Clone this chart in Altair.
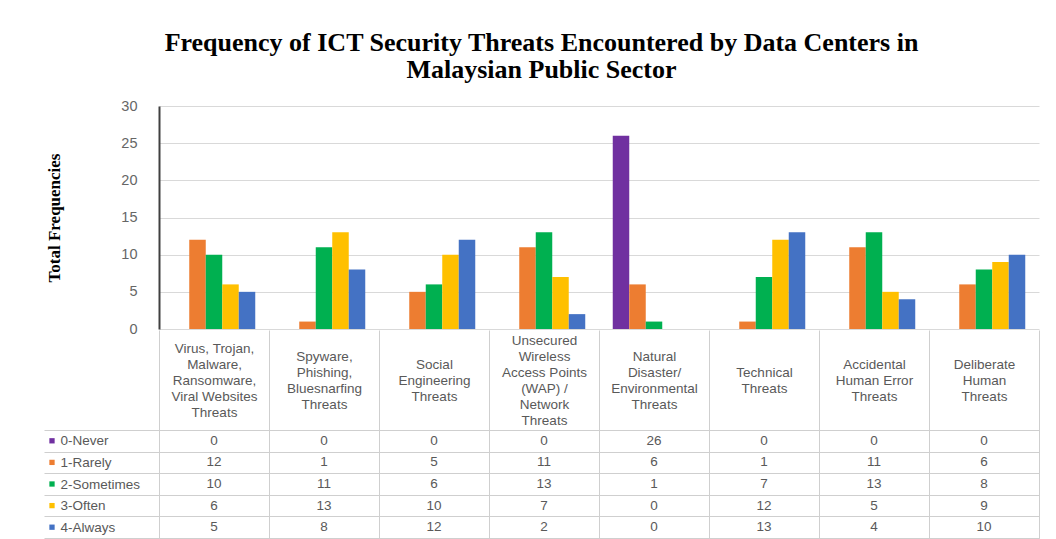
import altair as alt
import pandas as pd

categories = [
    "Virus, Trojan,\nMalware,\nRansomware,\nViral Websites\nThreats",
    "Spyware,\nPhishing,\nBluesnarfing\nThreats",
    "Social\nEngineering\nThreats",
    "Unsecured\nWireless\nAccess Points\n(WAP) /\nNetwork\nThreats",
    "Natural\nDisaster/\nEnvironmental\nThreats",
    "Technical\nThreats",
    "Accidental\nHuman Error\nThreats",
    "Deliberate\nHuman\nThreats",
]
series = ["0-Never", "1-Rarely", "2-Sometimes", "3-Often", "4-Always"]
colors = ["#7030A0", "#ED7D31", "#00B050", "#FFC000", "#4472C4"]

never = [0, 0, 0, 0, 26, 0, 0, 0]
rarely = [12, 1, 5, 11, 6, 1, 11, 6]
sometimes = [10, 11, 6, 13, 1, 7, 13, 8]
often = [6, 13, 10, 7, 0, 12, 5, 9]
always = [5, 8, 12, 2, 0, 13, 4, 10]

values = [never, rarely, sometimes, often, always]
rows = []
for s, vals in zip(series, values):
    for c, v in zip(categories, vals):
        rows.append({"category": c, "series": s, "value": v})
df = pd.DataFrame(rows)

GRID = "#d9d9d9"
TXT = "#595959"
LINE = "#cfcfcf"
LH = 16          # header line height
HEADER = 100     # header row height
color_scale = alt.Scale(domain=series, range=colors)

bars = alt.Chart(df).mark_bar().encode(
    x=alt.X("category:N", sort=categories, axis=None,
            scale=alt.Scale(domain=categories, paddingInner=0.25, paddingOuter=0.125)),
    xOffset=alt.XOffset("series:N", sort=series,
                        scale=alt.Scale(domain=series, paddingInner=0, paddingOuter=0)),
    y=alt.Y("value:Q", scale=alt.Scale(domain=[0, 30]),
            axis=alt.Axis(values=[0, 5, 10, 15, 20, 25, 30], grid=True, gridColor=GRID,
                          ticks=False, domain=True, domainColor="#404040", domainWidth=2,
                          labelFontSize=14.5, labelColor="#666666", labelFont="Liberation Sans",
                          labelPadding=22, title="Total Frequencies",
                          titleFont="Liberation Serif", titleFontSize=17,
                          titleFontWeight="bold", titleColor="#000000", titlePadding=57)),
    color=alt.Color("series:N", scale=color_scale, legend=None),
).properties(width=880, height=223, view=alt.ViewBackground(stroke=None))

base = alt.Chart(df)

# centre each multi-line header label in its cell: padding depends on its line count
pad_conditions = [
    {"test": "length(split(datum.value, '\\n')) == %d" % n,
     "value": -HEADER / 2 + LH * (n - 1) / 2}
    for n in range(1, 7)
]

cells = base.mark_text(fontSize=13.5, color=TXT, font="Liberation Sans").encode(
    x=alt.X("category:N", sort=categories,
            scale=alt.Scale(domain=categories, paddingInner=0, paddingOuter=0),
            axis=alt.Axis(orient="top", title=None, labelAngle=0,
                          labelExpr="split(datum.label, '\\n')",
                          labelFontSize=13.5, labelColor=TXT, labelFont="Liberation Sans",
                          labelLineHeight=LH, labelBaseline="middle", labelOverlap=False,
                          labelPadding={"condition": pad_conditions, "value": -HEADER / 2},
                          tickBand="extent", tickSize=HEADER, tickColor=LINE,
                          grid=True, gridColor=LINE, domain=True, domainColor=LINE,
                          labelLimit=300)),
    y=alt.Y("series:N", sort=series,
            scale=alt.Scale(domain=series, paddingInner=0, paddingOuter=0),
            axis=alt.Axis(title=None, labelAlign="left", labelBaseline="middle",
                          labelFontSize=13.5, labelColor=TXT, labelFont="Liberation Sans",
                          labelPadding=-16, tickBand="extent", tickSize=115, tickColor=LINE,
                          grid=True, gridColor=LINE, domain=False)),
    text="value:Q",
)

markers = base.transform_filter(alt.datum.category == categories[0]).mark_square(
    size=28, opacity=1).encode(
    x=alt.value(-107),
    y=alt.Y("series:N", sort=series),
    color=alt.Color("series:N", scale=color_scale, legend=None),
)

table = alt.layer(cells, markers).properties(
    width=880, height=108, view=alt.ViewBackground(stroke=LINE))

chart = alt.vconcat(bars, table, spacing=HEADER + 1, bounds="flush").properties(
    title=alt.TitleParams(
        text=["Frequency of ICT Security Threats Encountered by Data Centers in",
              "Malaysian Public Sector"],
        font="Liberation Serif", fontSize=26, fontWeight="bold", color="#000000",
        anchor="middle", lineHeight=27, offset=15),
    padding={"left": 35, "top": 22, "right": 0, "bottom": 0},
).configure_view(stroke=None)

chart.save("out.html", embed_options={"renderer": "svg", "actions": False})
